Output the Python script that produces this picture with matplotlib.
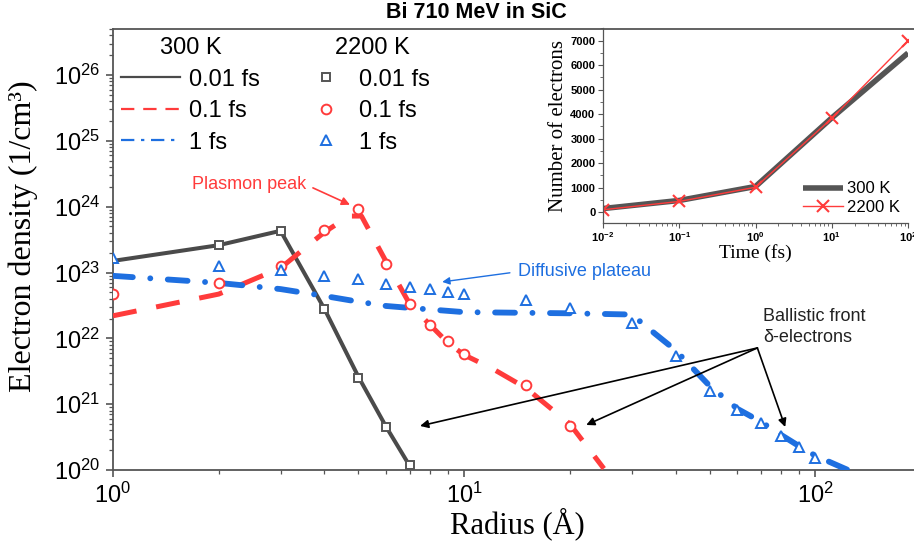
import matplotlib
matplotlib.use('Agg')
import matplotlib.pyplot as plt
from matplotlib.lines import Line2D
from matplotlib.ticker import LogLocator, NullFormatter, MultipleLocator

# ---------------- data ----------------
r_300_001 = [1, 2, 3, 4, 5, 6, 7]
n_300_001 = [1.5e23, 2.6e23, 4.3e23, 2.8e22, 2.6e21, 4.5e20, 1.15e20]
r_2200_001 = [2, 3, 4, 5, 6, 7]
n_2200_001 = [2.63e23, 4.3e23, 2.8e22, 2.5e21, 4.5e20, 1.19e20]

r_300_01 = [1, 2, 3, 4, 4.7, 5.1, 6, 7, 8, 9, 10, 12, 15, 20, 25]
n_300_01 = [2.2e22, 4.7e22, 1.17e23, 4.1e23, 7.2e23, 7.2e23, 1.45e23, 3.3e22,
            1.6e22, 8.5e21, 5.6e21, 3.5e21, 1.76e21, 5e20, 1.05e20]
r_2200_01 = [1, 2, 3, 4, 5, 6, 7, 8, 9, 10, 15, 20]
n_2200_01 = [4.7e22, 6.95e22, 1.26e23, 4.4e23, 9.3e23, 1.35e23, 3.3e22, 1.6e22,
             9.1e21, 5.8e21, 1.96e21, 4.7e20]

r_300_1 = [1, 2, 3, 4, 5, 6, 7, 10, 20, 30, 35, 40, 50, 60, 70, 80, 90, 100, 125]
n_300_1 = [8.9e22, 6.95e22, 5.6e22, 4.4e22, 3.6e22, 3.1e22, 2.9e22, 2.5e22, 2.4e22,
           2.3e22, 1.17e22, 6.6e21, 1.9e21, 8.5e20, 5.4e20, 3.4e20, 2.3e20, 1.65e20, 0.98e20]
r_2200_1 = [1, 2, 3, 4, 5, 6, 7, 8, 9, 10, 15, 20, 30, 40, 50, 60, 70, 80, 90, 100]
n_2200_1 = [1.67e23, 1.26e23, 1.1e23, 8.9e22, 8e22, 6.7e22, 6.0e22, 5.6e22, 5.1e22,
            4.7e22, 3.8e22, 2.9e22, 1.7e22, 5.4e21, 1.59e21, 8.2e20, 5.2e20, 3.3e20,
            2.2e20, 1.5e20]

t_fs = [0.01, 0.1, 1, 10, 100]
ne_300 = [150, 480, 1050, 3850, 6500]
ne_2200 = [100, 440, 1020, 3830, 7000]

time_labels = ['0.01 fs', '0.1 fs', '1 fs']

# ---------------- style ----------------
plt.rcParams['font.family'] = ['Liberation Sans', 'DejaVu Sans']
plt.rcParams['mathtext.fontset'] = 'custom'
plt.rcParams['mathtext.rm'] = 'Liberation Sans'
plt.rcParams['mathtext.bf'] = 'Liberation Sans:bold'

c_black = '#4a4a4a'
c_red = '#ff3b3b'
c_blue = '#1e6fe0'
c_spine = '#555555'
serif = ['Liberation Serif', 'DejaVu Serif']

W, H = 914, 547
fig = plt.figure(figsize=(W / 100, H / 100), dpi=100)

ax = fig.add_axes([113 / W, 77 / H, 808 / W, 441 / H])
ax.set_xscale('log')
ax.set_yscale('log')
ax.set_xlim(1, 200)
ax.set_ylim(1e20, 5e26)

# 300 K lines
ax.plot(r_300_001, n_300_001, color=c_black, lw=2.9, zorder=3)
ax.plot(r_300_01, n_300_01, color=c_red, lw=3.6, dashes=(4.8, 4.0),
        dash_capstyle='butt', zorder=3)
ax.plot(r_300_1, n_300_1, color=c_blue, lw=4.2, dashes=(3.4, 3.0, 0.01, 3.0),
        dash_capstyle='round', zorder=3)

# 2200 K markers
ax.plot(r_2200_001, n_2200_001, ls='none', marker='s', ms=6, mfc='white',
        mec='#555555', mew=1.4, zorder=4)
ax.plot(r_2200_01, n_2200_01, ls='none', marker='o', ms=7, mfc='white',
        mec=c_red, mew=1.4, zorder=4)
ax.plot(r_2200_1, n_2200_1, ls='none', marker='^', ms=7.5, mfc='white',
        mec=c_blue, mew=1.4, zorder=4)

for s in ['left', 'bottom', 'top']:
    ax.spines[s].set_color(c_spine)
    ax.spines[s].set_linewidth(1.3)
ax.spines['right'].set_visible(False)

ax.xaxis.set_major_locator(LogLocator(base=10, numticks=10))
ax.xaxis.set_minor_locator(LogLocator(base=10, subs=range(2, 10), numticks=30))
ax.xaxis.set_minor_formatter(NullFormatter())
ax.yaxis.set_major_locator(LogLocator(base=10, numticks=20))
ax.yaxis.set_minor_locator(LogLocator(base=10, subs=range(2, 10), numticks=100))
ax.yaxis.set_minor_formatter(NullFormatter())
ax.tick_params(which='both', direction='out', color=c_spine, labelsize=17)
ax.tick_params(which='major', length=5, width=1.2, pad=4)
ax.tick_params(which='minor', length=3, width=0.9)

ax.set_xlabel('Radius (Å)', family=serif, fontsize=22, labelpad=0)
ax.set_ylabel('Electron density (1/cm³)', family=serif, fontsize=23)
ax.yaxis.set_label_coords(-0.093, 0.53)

# legends
h1 = [Line2D([], [], color=c_black, lw=1.6),
      Line2D([], [], color=c_red, lw=1.6, dashes=(6, 4)),
      Line2D([], [], color=c_blue, lw=1.6, dashes=(6, 3, 1.5, 3))]
leg1 = ax.legend(h1, time_labels, title='300 K', loc='upper left',
                 bbox_to_anchor=(0, 1), frameon=False, fontsize=17,
                 title_fontsize=17, handlelength=2.5, handletextpad=0.35,
                 labelspacing=0.4, borderpad=0, borderaxespad=0.35)
ax.add_artist(leg1)
h2 = [Line2D([], [], ls='none', marker='s', ms=6, mfc='white', mec='#555555', mew=1.4),
      Line2D([], [], ls='none', marker='o', ms=7, mfc='white', mec=c_red, mew=1.4),
      Line2D([], [], ls='none', marker='^', ms=7.5, mfc='white', mec=c_blue, mew=1.4)]
leg2 = ax.legend(h2, time_labels, title='2200 K', loc='upper left',
                 bbox_to_anchor=(0.239, 1), frameon=False, fontsize=17,
                 title_fontsize=17, handlelength=1.0, handletextpad=0.9,
                 labelspacing=0.4, borderpad=0, borderaxespad=0.35)

# annotations
ax.text(3.54, 2.2e24, 'Plasmon peak', color=c_red, fontsize=13,
        ha='right', va='center')
ax.annotate('', xy=(4.73, 1.07e24), xytext=(3.71, 1.93e24),
            arrowprops=dict(arrowstyle='-|>', color=c_red, lw=1.2,
                            mutation_scale=12, shrinkA=0, shrinkB=0))
ax.text(14.2, 1.02e23, 'Diffusive plateau', color=c_blue, fontsize=13,
        ha='left', va='center')
ax.annotate('', xy=(8.66, 7.2e22), xytext=(13.5, 9.9e22),
            arrowprops=dict(arrowstyle='-|>', color=c_blue, lw=1.0,
                            mutation_scale=11, shrinkA=0, shrinkB=0))
ax.text(71.1, 1.49e22, 'Ballistic front\nδ-electrons', color='#222222',
        fontsize=13, ha='left', va='center', linespacing=1.35)
tail = (68.4, 7.15e21)
for head in [(7.49, 4.67e20), (22.27, 4.83e20), (82.1, 4.5e20)]:
    ax.annotate('', xy=head, xytext=tail,
                arrowprops=dict(arrowstyle='-|>', color='black', lw=1.2,
                                mutation_scale=12, shrinkA=0, shrinkB=0))

fig.text(476 / W, 1 - 12 / H, 'Bi 710 MeV in SiC', ha='center', va='center',
         fontsize=15.5, fontweight='bold')

# ---------------- inset ----------------
axin = fig.add_axes([603 / W, (H - 223) / H, 305 / W, 195 / H])
axin.set_facecolor('none')
axin.plot(t_fs, ne_300, color='#555555', lw=4, label='300 K',
          solid_capstyle='butt')
axin.plot(t_fs, ne_2200, color=c_red, lw=1, marker='x', ms=9, mew=1.5,
          label='2200 K')
axin.set_xscale('log')
axin.set_xlim(0.01, 100)
axin.set_ylim(-440, 7520)
axin.spines['top'].set_visible(False)
axin.spines['right'].set_visible(False)
for s in ['left', 'bottom']:
    axin.spines[s].set_color(c_spine)
    axin.spines[s].set_linewidth(0.9)
axin.yaxis.set_major_locator(MultipleLocator(1000))
axin.yaxis.set_minor_locator(MultipleLocator(500))
axin.xaxis.set_major_locator(LogLocator(base=10, numticks=10))
axin.xaxis.set_minor_locator(LogLocator(base=10, subs=range(2, 10), numticks=50))
axin.xaxis.set_minor_formatter(NullFormatter())
axin.tick_params(which='both', direction='out', color=c_spine, labelsize=8, pad=2)
axin.tick_params(which='major', length=3.5, width=0.8)
axin.tick_params(which='minor', length=2, width=0.6)
for lbl in axin.get_yticklabels() + axin.get_xticklabels():
    lbl.set_fontweight('bold')
axin.set_ylabel('Number of electrons', family=serif, fontsize=15, labelpad=2)
axin.set_xlabel('Time (fs)', family=serif, fontsize=14, labelpad=0)
axin.legend(loc='lower right', frameon=False, fontsize=12, handlelength=2.4,
            handletextpad=0.25, labelspacing=0.2, borderpad=0,
            borderaxespad=0.5)

fig.savefig('out.png', dpi=100)
